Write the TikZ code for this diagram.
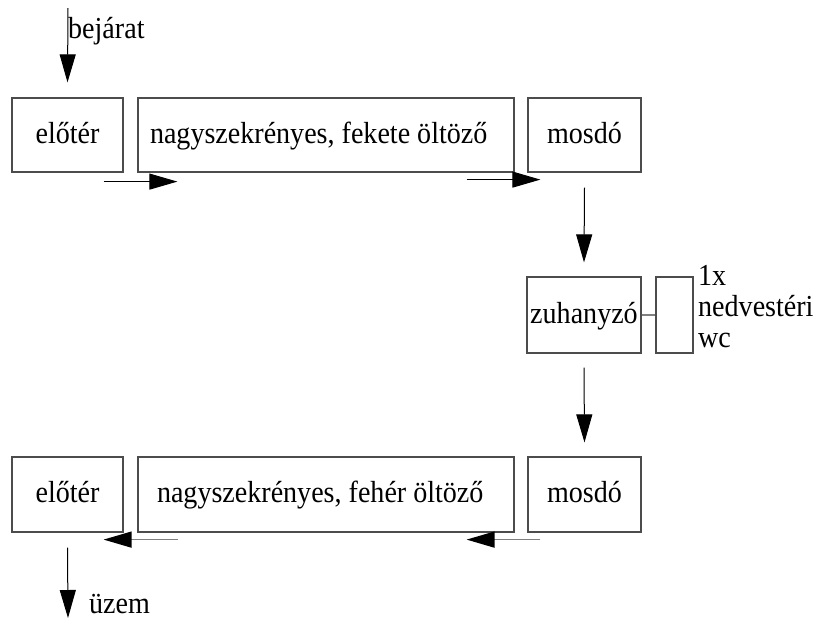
\documentclass[tikz,border=0pt]{standalone}
\usepackage{fontspec}
\setmainfont[FakeStretch=0.92]{Liberation Serif}
\usetikzlibrary{arrows.meta}
\tikzset{
  room/.style={draw=black!70, line width=1.2pt, inner sep=0pt, minimum height=74pt, text height=22pt, text depth=6pt},
  flow/.style={-{Triangle[length=28pt,width=16pt]}, line width=1pt},
  back/.style={-{Triangle[length=28pt,width=16pt,color=black]}, line width=1.5pt, draw=black!50}
}
\begin{document}
\begin{tikzpicture}[x=1pt, y=-1pt, font=\fontsize{30.5}{31}\selectfont]
  \useasboundingbox (0,0) rectangle (817,619);
  % fekete oldal
  \node[room, minimum width=111pt] (e1) at (67.5,135) {előtér};
  \node[room, minimum width=376pt, text width=352pt, align=flush left] (n1) at (326,135) {nagyszekrényes, fekete öltöző};
  \node[room, minimum width=113pt] (m1) at (584.5,135) {mosdó};
  % zuhany
  \node[room, minimum width=114pt, minimum height=76pt] (zuh) at (584,315) {zuhanyzó};
  \node[room, minimum width=37pt, minimum height=76pt] (wc) at (674.5,315) {};
  \node[anchor=north west, align=left, inner sep=0pt] (wct) at (698,265) {1x\\nedvestéri\\wc};
  % feher oldal
  \node[room, minimum width=111pt, minimum height=75pt] (e2) at (67.5,494.5) {előtér};
  \node[room, minimum width=376pt, minimum height=75pt, text width=338pt, align=flush left] (n2) at (326,494.5) {nagyszekrényes, fehér öltöző};
  \node[room, minimum width=113pt, minimum height=75pt] (m2) at (584.5,494.5) {mosdó};
  % be- es kijarat
  \coordinate (in1) at (68,8);
  \coordinate (out1) at (68,618);
  \node[anchor=base west, inner sep=0pt] (bej) at (68,38) {bejárat};
  \node[anchor=base west, inner sep=0pt] (uzem) at (89,613) {üzem};
  \begin{scope}[flow]
    \draw (in1) -- ([yshift=15pt]e1.north);
    \draw ([xshift=-20pt,yshift=-9pt]e1.south east) -- ([xshift=40pt,yshift=-9pt]n1.south west);
    \draw ([xshift=-48pt,yshift=-7pt]n1.south east) -- ([xshift=13pt,yshift=-7pt]m1.south west);
    \draw ([yshift=-15pt]m1.south) -- ([yshift=14pt]zuh.north);
    \draw ([yshift=-14pt]zuh.south) -- ([yshift=14pt]m2.north);
    \draw ([yshift=-15pt]e2.south) -- (out1);
  \end{scope}
  \draw[back] ([xshift=13pt,yshift=-7pt]m2.south west) -- ([xshift=-48pt,yshift=-7pt]n2.south east);
  \draw[back] ([xshift=41pt,yshift=-7pt]n2.south west) -- ([xshift=-20pt,yshift=-7pt]e2.south east);
  \draw[draw=black!50, line width=1.2pt] (zuh.east) -- (wc.west);
\end{tikzpicture}
\end{document}
